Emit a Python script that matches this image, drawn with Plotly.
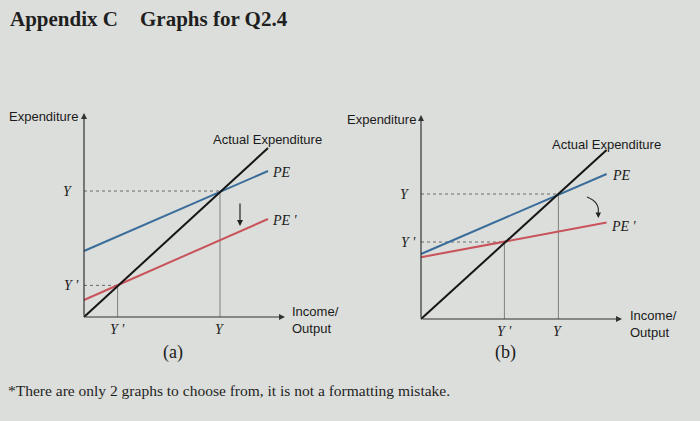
import plotly.graph_objects as go

# ---------------- data (model units) ----------------
# Panel (a)
a_x_ends = [0, 9.2]
a_actual = [0, 8.45]
a_pe = [3.3, 7.3]
a_pe2 = [0.85, 4.9]
a_eq = [6.8, 6.3]      # (Y, Y)
a_eq2 = [1.68, 1.58]   # (Y', Y')

# Panel (b)
b_x_ends = [0, 9.28]
b_actual = [0, 8.45]
b_pe = [3.25, 7.25]
b_pe2 = [3.09, 4.82]
b_eq = [6.87, 6.25]
b_eq2 = [4.17, 3.85]

axis_x_max = 10.05
axis_y_max = 10.2

tick_y = "<i>Y</i>"
tick_y2 = "<i>Y '</i>"

BG = "#dcdedb"
BLUE = "#3a6d9a"
RED = "#c8535a"
BLACK = "#151515"
GUIDE = "#6a6a6a"

W, H = 700, 421
XR = [-4, 13]
YR = [-2.5, 11.5]
PX = 20.0

def xdom(ox):
    return [(ox + XR[0] * PX) / W, (ox + XR[1] * PX) / W]

def ydom(oy):
    bottom = oy - YR[0] * PX
    top = oy - YR[1] * PX
    return [(H - bottom) / H, (H - top) / H]

fig = go.Figure()

panels = [
    dict(xa="x", ya="y", xe=a_x_ends, act=a_actual, pe=a_pe, pe2=a_pe2, eq=a_eq, eq2=a_eq2),
    dict(xa="x2", ya="y2", xe=b_x_ends, act=b_actual, pe=b_pe, pe2=b_pe2, eq=b_eq, eq2=b_eq2),
]

annotations = []
shapes = []
sans = dict(family="Liberation Sans, Arial, sans-serif", size=13, color="#1a1a1a")
serif_it = dict(family="Liberation Serif, Times New Roman, serif", size=14, color="#1a1a1a")

for p in panels:
    xa, ya = p["xa"], p["ya"]
    for eq in (p["eq"], p["eq2"]):
        fig.add_trace(go.Scatter(x=[0, eq[0]], y=[eq[1], eq[1]], mode="lines",
                                 line=dict(color=GUIDE, width=1, dash="dot"),
                                 xaxis=xa, yaxis=ya, showlegend=False, hoverinfo="skip"))
        fig.add_trace(go.Scatter(x=[eq[0], eq[0]], y=[0, eq[1]], mode="lines",
                                 line=dict(color="#808080", width=1),
                                 xaxis=xa, yaxis=ya, showlegend=False, hoverinfo="skip"))
    fig.add_trace(go.Scatter(x=p["xe"], y=p["pe2"], mode="lines", line=dict(color=RED, width=2),
                             xaxis=xa, yaxis=ya, showlegend=False))
    fig.add_trace(go.Scatter(x=p["xe"], y=p["pe"], mode="lines", line=dict(color=BLUE, width=2),
                             xaxis=xa, yaxis=ya, showlegend=False))
    fig.add_trace(go.Scatter(x=p["xe"], y=p["act"], mode="lines", line=dict(color=BLACK, width=2),
                             xaxis=xa, yaxis=ya, showlegend=False))
    annotations.append(dict(xref=xa, yref=ya, axref=xa, ayref=ya, x=0, y=axis_y_max, ax=0, ay=0,
                            text="", showarrow=True, arrowhead=2, arrowsize=1, arrowwidth=1.2,
                            arrowcolor="#333333", standoff=0, startstandoff=0))
    annotations.append(dict(xref=xa, yref=ya, axref=xa, ayref=ya, x=axis_x_max, y=0, ax=0, ay=0,
                            text="", showarrow=True, arrowhead=2, arrowsize=1, arrowwidth=1.2,
                            arrowcolor="#333333", standoff=0, startstandoff=0))
    annotations.append(dict(xref=xa, yref=ya, x=-0.8, y=p["eq"][1], text=tick_y, showarrow=False,
                            font=serif_it, xanchor="center", yanchor="middle"))
    annotations.append(dict(xref=xa, yref=ya, x=-0.65, y=p["eq2"][1], text=tick_y2, showarrow=False,
                            font=serif_it, xanchor="center", yanchor="middle"))
    annotations.append(dict(xref=xa, yref=ya, x=p["eq"][0], y=-0.6, text=tick_y, showarrow=False,
                            font=serif_it, xanchor="center", yanchor="middle"))
    annotations.append(dict(xref=xa, yref=ya, x=p["eq2"][0], y=-0.6, text=tick_y2, showarrow=False,
                            font=serif_it, xanchor="center", yanchor="middle"))

# Panel (a) labels
annotations += [
    dict(xref="x", yref="y", x=-0.2, y=10.05, text="Expenditure", showarrow=False, font=sans,
         xanchor="right", yanchor="middle"),
    dict(xref="x", yref="y", x=9.17, y=8.9, text="Actual Expenditure", showarrow=False, font=sans,
         xanchor="center", yanchor="middle"),
    dict(xref="x", yref="y", x=9.3, y=7.25, text="<i>PE</i>", showarrow=False, font=serif_it,
         xanchor="left", yanchor="middle"),
    dict(xref="x", yref="y", x=9.3, y=4.85, text="<i>PE '</i>", showarrow=False, font=serif_it,
         xanchor="left", yanchor="middle"),
    dict(xref="x", yref="y", x=10.3, y=-0.15, text="Income/<br>Output", showarrow=False, font=sans,
         xanchor="left", yanchor="middle", align="left"),
    dict(xref="x", yref="y", axref="x", ayref="y", x=7.8, y=4.55, ax=7.8, ay=5.75, text="",
         showarrow=True, arrowhead=2, arrowsize=1, arrowwidth=1.2, arrowcolor="#222222",
         standoff=0, startstandoff=0),
    dict(xref="x", yref="y", x=4.45, y=-1.75, text="(a)", showarrow=False,
         font=dict(family="Liberation Serif, serif", size=18, color="#1a1a1a"),
         xanchor="center", yanchor="middle"),
]
# Panel (b) labels
annotations += [
    dict(xref="x2", yref="y2", x=-0.15, y=10.0, text="Expenditure", showarrow=False, font=sans,
         xanchor="right", yanchor="middle"),
    dict(xref="x2", yref="y2", x=9.25, y=8.75, text="Actual Expenditure", showarrow=False, font=sans,
         xanchor="center", yanchor="middle"),
    dict(xref="x2", yref="y2", x=9.45, y=7.2, text="<i>PE</i>", showarrow=False, font=serif_it,
         xanchor="left", yanchor="middle"),
    dict(xref="x2", yref="y2", x=9.4, y=4.65, text="<i>PE '</i>", showarrow=False, font=serif_it,
         xanchor="left", yanchor="middle"),
    dict(xref="x2", yref="y2", x=10.35, y=-0.25, text="Income/<br>Output", showarrow=False, font=sans,
         xanchor="left", yanchor="middle", align="left"),
    dict(xref="x2", yref="y2", axref="x2", ayref="y2", x=8.87, y=5.05, ax=8.86, ay=5.35, text="",
         showarrow=True, arrowhead=2, arrowsize=1, arrowwidth=1.1, arrowcolor="#222222",
         standoff=0, startstandoff=0),
    dict(xref="x2", yref="y2", x=4.2, y=-1.65, text="(b)", showarrow=False,
         font=dict(family="Liberation Serif, serif", size=18, color="#1a1a1a"),
         xanchor="center", yanchor="middle"),
]
shapes.append(dict(type="path", xref="x2", yref="y2",
                   path="M 8.3,6.1 Q 8.95,5.85 8.86,5.3",
                   line=dict(color="#222222", width=1.1)))

# Title and footnote
title_font = dict(family="Liberation Serif, serif", size=21, color="#1f1f1f")
annotations += [
    dict(xref="paper", yref="paper", x=8 / W, y=1 - 19 / H, text="<b>Appendix C</b>", showarrow=False,
         font=title_font, xanchor="left", yanchor="middle"),
    dict(xref="paper", yref="paper", x=138 / W, y=1 - 19 / H, text="<b>Graphs for Q2.4</b>",
         showarrow=False, font=title_font, xanchor="left", yanchor="middle"),
    dict(xref="paper", yref="paper", x=6 / W, y=1 - 390 / H,
         text="*There are only 2 graphs to choose from, it is not a formatting mistake.",
         showarrow=False, font=dict(family="Liberation Serif, serif", size=15.5, color="#1f1f1f"),
         xanchor="left", yanchor="middle"),
]

ax_common = dict(visible=False, showgrid=False, zeroline=False, fixedrange=True)
fig.update_layout(
    width=W, height=H,
    margin=dict(l=0, r=0, t=0, b=0),
    paper_bgcolor=BG, plot_bgcolor="rgba(0,0,0,0)",
    xaxis=dict(domain=xdom(84), range=XR, anchor="y", **ax_common),
    yaxis=dict(domain=ydom(317), range=YR, anchor="x", **ax_common),
    xaxis2=dict(domain=xdom(421), range=XR, anchor="y2", **ax_common),
    yaxis2=dict(domain=ydom(319), range=YR, anchor="x2", **ax_common),
    annotations=annotations,
    shapes=shapes,
    showlegend=False,
)

fig.write_html("out.html", config={"displayModeBar": False},
               post_script="document.body.style.margin='0';document.body.style.background='#dcdedb';")
